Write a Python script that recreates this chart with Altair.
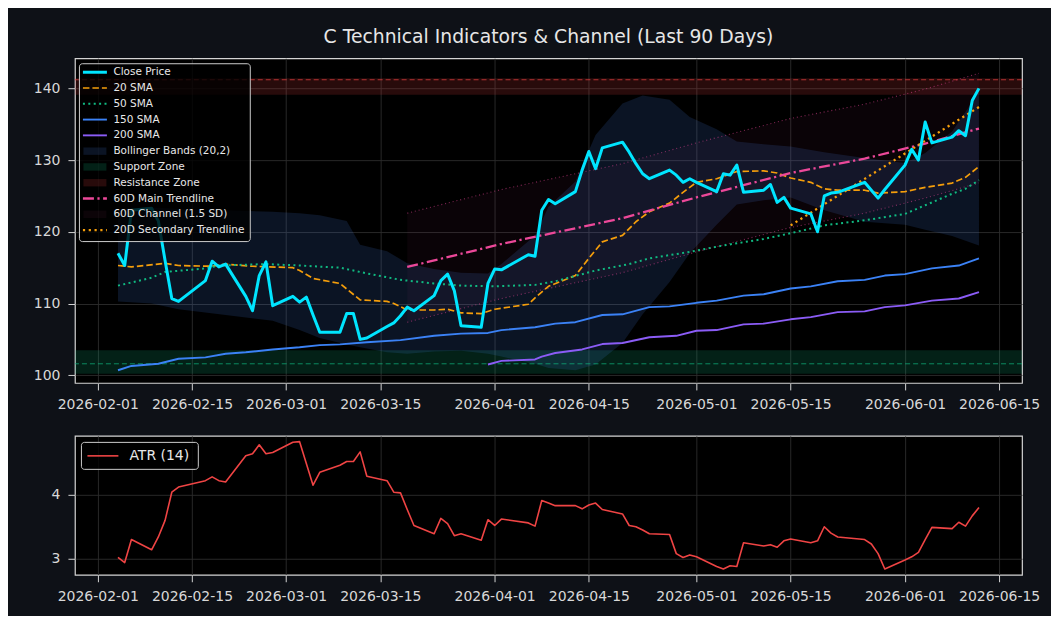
import altair as alt
import pandas as pd

# ---------------- data ----------------
HOLIDAYS = ["2026-02-16", "2026-04-03", "2026-05-25"]
dates = [d for d in pd.bdate_range("2026-02-04", "2026-06-12").strftime("%Y-%m-%d") if d not in HOLIDAYS]

close = [117.0, 115.3, 123.0, 123.3, 121.5, 116.0, 110.7, 110.3, 113.2, 115.9, 115.1, 115.5, 111.0, 109.0, 113.9, 115.8, 109.7,
         111.0, 110.2, 110.9, 108.4, 106.0, 106.0, 108.6, 108.6, 105.0, 105.2, 106.8, 107.3, 108.3, 109.5, 109.0, 111.1, 113.2, 114.1, 111.8, 106.9, 106.7, 112.8,
         114.8, 114.7, 116.8, 116.6, 123.0, 124.5, 123.9, 125.6, 128.6, 131.2, 128.8, 131.7, 132.5, 131.1, 129.5, 128.1, 127.4, 128.6, 127.9, 126.9, 127.4,
         126.9, 125.6, 128.1, 127.9, 129.3, 125.5, 125.8, 126.6, 124.1, 124.8, 123.3, 122.5, 120.0, 125.0, 125.4, 125.5, 126.9, 125.8, 124.7, 125.9,
         129.3, 131.5, 130.0, 135.3, 132.4, 133.2, 134.1, 133.4, 138.3, 140.0]

atr = [3.02, 2.94, 3.30, 3.14, 3.34, 3.60, 4.04, 4.12, 4.22, 4.28, 4.22, 4.20, 4.61, 4.64, 4.78, 4.64, 4.66,
       4.82, 4.83, 4.49, 4.15, 4.35, 4.46, 4.52, 4.52, 4.67, 4.29, 4.22, 4.04, 4.03, 3.77, 3.52, 3.39, 3.63, 3.55, 3.36, 3.39, 3.29, 3.61,
       3.52, 3.62, 3.56, 3.51, 3.91, 3.87, 3.83, 3.83, 3.78, 3.84, 3.87, 3.77, 3.70, 3.52, 3.50, 3.45, 3.39, 3.38, 3.08, 3.02, 3.06,
       3.03, 2.88, 2.84, 2.89, 2.88, 3.25, 3.20, 3.22, 3.18, 3.28, 3.31, 3.25, 3.28, 3.50, 3.40, 3.34, 3.30, 3.23, 3.08, 2.84,
       2.98, 3.03, 3.10, 3.30, 3.49, 3.47, 3.57, 3.51, 3.67, 3.80]

sma20_dates = ["2026-02-04", "2026-02-06", "2026-02-11", "2026-02-13", "2026-02-18", "2026-02-20", "2026-02-24", "2026-03-02",
               "2026-03-03", "2026-03-05", "2026-03-09", "2026-03-12", "2026-03-16", "2026-03-17", "2026-03-19", "2026-03-23",
               "2026-03-25", "2026-03-27", "2026-03-30", "2026-04-01", "2026-04-06", "2026-04-07", "2026-04-09", "2026-04-13",
               "2026-04-15", "2026-04-17", "2026-04-20", "2026-04-22", "2026-04-24", "2026-04-27", "2026-04-29", "2026-05-01",
               "2026-05-04", "2026-05-07", "2026-05-11", "2026-05-13", "2026-05-15", "2026-05-18", "2026-05-20", "2026-05-22",
               "2026-05-26", "2026-05-28", "2026-06-01", "2026-06-04", "2026-06-08", "2026-06-10", "2026-06-12"]
sma20 = [115.3, 115.1, 115.6, 115.3, 115.2, 115.5, 115.2, 115.0, 114.6, 113.5, 112.8, 110.5, 110.3, 110.0, 109.1, 109.1,
         109.2, 108.7, 108.6, 109.2, 109.9, 110.8, 112.4, 113.9, 116.3, 118.6, 119.5, 121.4, 122.8, 124.0, 125.5, 126.9,
         127.4, 128.4, 128.5, 128.2, 127.5, 126.9, 126.0, 125.8, 125.8, 125.4, 125.6, 126.2, 126.8, 127.6, 129.1]

sma50_dates = ["2026-02-04", "2026-02-09", "2026-02-11", "2026-02-17", "2026-02-19", "2026-02-26", "2026-03-03", "2026-03-09",
               "2026-03-13", "2026-03-18", "2026-03-23", "2026-03-27", "2026-04-01", "2026-04-07", "2026-04-10", "2026-04-16",
               "2026-04-21", "2026-04-24", "2026-04-30", "2026-05-05", "2026-05-11", "2026-05-15", "2026-05-20", "2026-05-26",
               "2026-06-01", "2026-06-04", "2026-06-08", "2026-06-10", "2026-06-12"]
sma50 = [112.5, 113.6, 114.4, 114.9, 115.3, 115.5, 115.3, 115.0, 114.2, 113.3, 112.8, 112.5, 112.4, 112.6, 113.1, 114.6,
         115.5, 116.3, 117.2, 118.1, 119.0, 119.8, 120.9, 121.6, 122.5, 123.7, 125.3, 126.0, 127.2]

sma150_dates = ["2026-02-04", "2026-02-06", "2026-02-10", "2026-02-13", "2026-02-17", "2026-02-20", "2026-02-23", "2026-02-27",
                "2026-03-03", "2026-03-06", "2026-03-09", "2026-03-13", "2026-03-18", "2026-03-23", "2026-03-27", "2026-03-31",
                "2026-04-02", "2026-04-07", "2026-04-10", "2026-04-13", "2026-04-17", "2026-04-20", "2026-04-24", "2026-04-27",
                "2026-05-01", "2026-05-04", "2026-05-08", "2026-05-11", "2026-05-15", "2026-05-18", "2026-05-22", "2026-05-26",
                "2026-05-29", "2026-06-01", "2026-06-05", "2026-06-09", "2026-06-12"]
sma150 = [100.7, 101.3, 101.6, 102.3, 102.5, 103.0, 103.2, 103.6, 103.9, 104.2, 104.3, 104.6, 104.9, 105.5, 105.8, 105.9,
          106.3, 106.7, 107.2, 107.4, 108.4, 108.5, 109.5, 109.6, 110.1, 110.4, 111.1, 111.3, 112.1, 112.4, 113.1, 113.3,
          113.9, 114.1, 114.9, 115.3, 116.3]

sma200_dates = ["2026-03-31", "2026-04-02", "2026-04-07", "2026-04-08", "2026-04-10", "2026-04-14", "2026-04-17", "2026-04-20",
                "2026-04-24", "2026-04-28", "2026-05-01", "2026-05-04", "2026-05-08", "2026-05-11", "2026-05-15", "2026-05-18",
                "2026-05-22", "2026-05-26", "2026-05-29", "2026-06-01", "2026-06-05", "2026-06-09", "2026-06-12"]
sma200 = [101.5, 102.0, 102.2, 102.6, 103.1, 103.6, 104.35, 104.5, 105.3, 105.5, 106.2, 106.3, 107.1, 107.2, 107.8, 108.1,
          108.8, 108.9, 109.5, 109.75, 110.4, 110.7, 111.6]

bb_dates = ["2026-02-04", "2026-02-09", "2026-02-13", "2026-02-20", "2026-02-27", "2026-03-03", "2026-03-06", "2026-03-10",
            "2026-03-12", "2026-03-16", "2026-03-19", "2026-03-23", "2026-03-27", "2026-03-31", "2026-04-02", "2026-04-07",
            "2026-04-09", "2026-04-13", "2026-04-16", "2026-04-20", "2026-04-23", "2026-04-27", "2026-04-30", "2026-05-04",
            "2026-05-07", "2026-05-11", "2026-05-15", "2026-05-20", "2026-05-26", "2026-06-01", "2026-06-04", "2026-06-08",
            "2026-06-12"]
bb_upper = [123.2, 123.4, 123.2, 123.0, 122.8, 122.6, 122.3, 121.5, 118.2, 117.3, 115.6, 114.8, 114.3, 114.2, 115.5, 119.5,
            123.5, 127.0, 133.5, 137.9, 139.0, 138.4, 136.0, 134.3, 132.6, 132.2, 131.9, 131.1, 130.3, 129.6, 131.0, 134.0,
            139.5]
bb_lower = [110.3, 110.0, 109.2, 108.4, 107.6, 106.3, 105.2, 104.3, 103.9, 103.2, 103.0, 103.3, 103.4, 103.0, 102.6, 101.6,
            101.0, 100.7, 101.5, 104.5, 108.5, 113.0, 117.0, 121.0, 123.8, 124.4, 124.8, 123.0, 121.4, 121.0, 120.3, 119.4,
            118.1]

trend_dates = ["2026-03-19", "2026-04-02", "2026-04-20", "2026-05-01", "2026-05-15", "2026-05-26", "2026-06-04", "2026-06-12"]
trend_main = [115.1, 118.3, 121.9, 124.8, 128.2, 130.2, 132.3, 134.4]
chan_upper = [122.6, 125.9, 129.5, 132.4, 135.8, 137.8, 139.9, 142.1]
chan_lower = [107.4, 110.7, 114.3, 117.2, 120.6, 122.6, 124.7, 126.8]

sec_dates = ["2026-05-15", "2026-06-12"]
sec_trend = [120.9, 137.4]

support_level = 101.6
support_zone = [100.2, 103.5]
resist_level = 141.2
resist_zone = [139.1, 141.4]

tick_days = [(2, 1), (2, 15), (3, 1), (3, 15), (4, 1), (4, 15), (5, 1), (5, 15), (6, 1), (6, 15)]

# ---------------- styling ----------------
FONT = "DejaVu Sans"
W, H_MAIN, H_ATR = 948, 325, 139
C_CLOSE = "#00E5FF"
C_SMA20 = "#F59E0B"
C_SMA50 = "#10B981"
C_SMA150 = "#3B82F6"
C_SMA200 = "#8B5CF6"
C_PINK = "#EC4899"
C_ATR = "#EF4444"

DASH20 = [6.5, 3]
DOT50 = [2, 3.4]
DASHDOT = [11, 3.5, 2.2, 3.5]
DOT_SEC = [2.2, 3.6]

x_domain = [alt.DateTime(year=2026, month=1, date=28, hours=14, minutes=24, utc=True),
            alt.DateTime(year=2026, month=6, date=18, hours=9, minutes=36, utc=True)]
x_scale = alt.Scale(type="utc", domain=x_domain)
x_axis = alt.Axis(values=[alt.DateTime(year=2026, month=m, date=d, utc=True) for m, d in tick_days],
                  format="%Y-%m-%d", labelOverlap=False, labelFlush=False, title=None,
                  labelPadding=8)

y_main_scale = alt.Scale(domain=[98.93, 144.2], nice=False, zero=False)
y_main_axis = alt.Axis(values=[100, 110, 120, 130, 140], title=None, labelPadding=8)
y_atr_scale = alt.Scale(domain=[2.75, 4.92], nice=False, zero=False)
y_atr_axis = alt.Axis(values=[3, 4], title=None, labelPadding=8)


def X():
    return alt.X("date:T", scale=x_scale, axis=x_axis)


def Ym(field):
    return alt.Y(f"{field}:Q", scale=y_main_scale, axis=y_main_axis)


def line(df, field, color, width, dash=None, opacity=1.0):
    kw = dict(color=color, strokeWidth=width, strokeOpacity=opacity, strokeJoin="round")
    if dash:
        kw["strokeDash"] = dash
    return alt.Chart(df).mark_line(**kw).encode(x=X(), y=Ym(field))


df_close = pd.DataFrame({"date": dates, "v": close})
df_atr = pd.DataFrame({"date": dates, "v": atr})
df_s20 = pd.DataFrame({"date": sma20_dates, "v": sma20})
df_s50 = pd.DataFrame({"date": sma50_dates, "v": sma50})
df_s150 = pd.DataFrame({"date": sma150_dates, "v": sma150})
df_s200 = pd.DataFrame({"date": sma200_dates, "v": sma200})
df_bb = pd.DataFrame({"date": bb_dates, "hi": bb_upper, "lo": bb_lower})
df_tr = pd.DataFrame({"date": trend_dates, "v": trend_main, "hi": chan_upper, "lo": chan_lower})
df_sec = pd.DataFrame({"date": sec_dates, "v": sec_trend})
df_sup = pd.DataFrame({"lo": [support_zone[0]], "hi": [support_zone[1]], "lvl": [support_level]})
df_res = pd.DataFrame({"lo": [resist_zone[0]], "hi": [resist_zone[1]], "lvl": [resist_level]})

layers = []
# zones
for df_z, col, op in [(df_sup, C_SMA50, 0.18), (df_res, C_ATR, 0.17)]:
    layers.append(alt.Chart(df_z).mark_rect(color=col, opacity=op).encode(
        x=alt.value(0), x2=alt.value(W), y=Ym("lo"), y2="hi:Q"))
# bollinger + channel fills
layers.append(alt.Chart(df_bb).mark_area(color="#4B86F0", opacity=0.15).encode(x=X(), y=Ym("hi"), y2="lo:Q"))
layers.append(alt.Chart(df_tr).mark_area(color=C_PINK, opacity=0.045).encode(x=X(), y=Ym("hi"), y2="lo:Q"))
# channel bounds
layers.append(line(df_tr, "hi", C_PINK, 1.1, [1.1, 2.8], 0.5))
layers.append(line(df_tr, "lo", C_PINK, 1.1, [1.1, 2.8], 0.5))
# support / resistance lines
layers.append(alt.Chart(df_sup).mark_rule(color=C_SMA50, strokeWidth=1, strokeDash=[5, 3], opacity=0.7).encode(y=Ym("lvl")))
layers.append(alt.Chart(df_res).mark_rule(color=C_ATR, strokeWidth=1, strokeDash=[5, 3], opacity=0.7).encode(y=Ym("lvl")))
# moving averages
layers.append(line(df_s20, "v", C_SMA20, 1.7, DASH20))
layers.append(line(df_s50, "v", C_SMA50, 2.0, DOT50))
layers.append(line(df_s150, "v", C_SMA150, 1.9))
layers.append(line(df_s200, "v", C_SMA200, 1.9))
# trendlines
layers.append(line(df_tr, "v", C_PINK, 2.3, DASHDOT))
layers.append(line(df_sec, "v", C_SMA20, 2.3, DOT_SEC))
# close price
layers.append(line(df_close, "v", C_CLOSE, 3.0))

# ---------------- legend (main) ----------------
one = pd.DataFrame({"k": [0]})
layers.append(alt.Chart(one).mark_rect(fill="#000000", fillOpacity=0.8, stroke="#cccccc", strokeWidth=1,
                                       cornerRadius=3).encode(
    x=alt.value(4.5), x2=alt.value(175.5), y=alt.value(5.5), y2=alt.value(183.5)))

legend_items = [
    ("Close Price", "line", C_CLOSE, 3.0, None, 1.0),
    ("20 SMA", "line", C_SMA20, 1.7, DASH20, 1.0),
    ("50 SMA", "line", C_SMA50, 2.0, DOT50, 1.0),
    ("150 SMA", "line", C_SMA150, 1.9, None, 1.0),
    ("200 SMA", "line", C_SMA200, 1.9, None, 1.0),
    ("Bollinger Bands (20,2)", "rect", "#4B86F0", 0, None, 0.15),
    ("Support Zone", "rect", C_SMA50, 0, None, 0.18),
    ("Resistance Zone", "rect", C_ATR, 0, None, 0.17),
    ("60D Main Trendline", "line", C_PINK, 2.3, DASHDOT, 1.0),
    ("60D Channel (1.5 SD)", "rect", C_PINK, 0, None, 0.05),
    ("20D Secondary Trendline", "line", C_SMA20, 2.3, DOT_SEC, 1.0),
]
for i, (label, kind, col, wdt, dash, op) in enumerate(legend_items):
    yc = 14.0 + i * 15.8
    if kind == "line":
        kw = dict(color=col, strokeWidth=wdt, opacity=op)
        if dash:
            kw["strokeDash"] = dash
        layers.append(alt.Chart(one).mark_rule(**kw).encode(
            x=alt.value(8), x2=alt.value(32), y=alt.value(yc)))
    else:
        layers.append(alt.Chart(one).mark_rect(color=col, opacity=op).encode(
            x=alt.value(8.5), x2=alt.value(31.5), y=alt.value(yc - 3.7), y2=alt.value(yc + 3.7)))
    layers.append(alt.Chart(one).mark_text(text=label, align="left", baseline="middle", font=FONT,
                                           fontSize=10.5, color="#e8e8e8").encode(
        x=alt.value(38.5), y=alt.value(yc)))

main = alt.layer(*layers).properties(
    width=W, height=H_MAIN,
    title=alt.TitleParams("C Technical Indicators & Channel (Last 90 Days)", anchor="middle", frame="group",
                          font=FONT, fontSize=18.8, fontWeight="normal", color="#e6e6e6", offset=11),
)

# ---------------- ATR panel ----------------
atr_layers = [
    alt.Chart(df_atr).mark_line(color=C_ATR, strokeWidth=1.6, strokeJoin="round").encode(
        x=X(), y=alt.Y("v:Q", scale=y_atr_scale, axis=y_atr_axis)),
    alt.Chart(one).mark_rect(fill="#000000", fillOpacity=0.8, stroke="#cccccc", strokeWidth=1,
                             cornerRadius=3).encode(
        x=alt.value(6.5), x2=alt.value(123.5), y=alt.value(6.5), y2=alt.value(33.5)),
    alt.Chart(one).mark_rule(color=C_ATR, strokeWidth=1.6).encode(
        x=alt.value(12.5), x2=alt.value(43.5), y=alt.value(20)),
    alt.Chart(one).mark_text(text="ATR (14)", align="left", baseline="middle", font=FONT, fontSize=14,
                             color="#e8e8e8").encode(x=alt.value(54.5), y=alt.value(20)),
]
atr_chart = alt.layer(*atr_layers).properties(width=W, height=H_ATR)

chart = alt.vconcat(main, atr_chart, spacing=22).properties(
    padding={"left": 24, "top": 19, "right": 10, "bottom": 11},
    background="#0e1117",
).configure_view(
    fill="#000000", stroke="#d4d4d4", strokeWidth=1.2,
).configure_axis(
    domain=False, grid=True, gridColor="#2c2c2c", gridWidth=0.9,
    tickColor="#d4d4d4", tickSize=7, tickWidth=1,
    labelColor="#d8d8d8", labelFontSize=14, labelFont=FONT,
)

chart.save("out.html", embed_options={"renderer": "svg", "actions": False})
